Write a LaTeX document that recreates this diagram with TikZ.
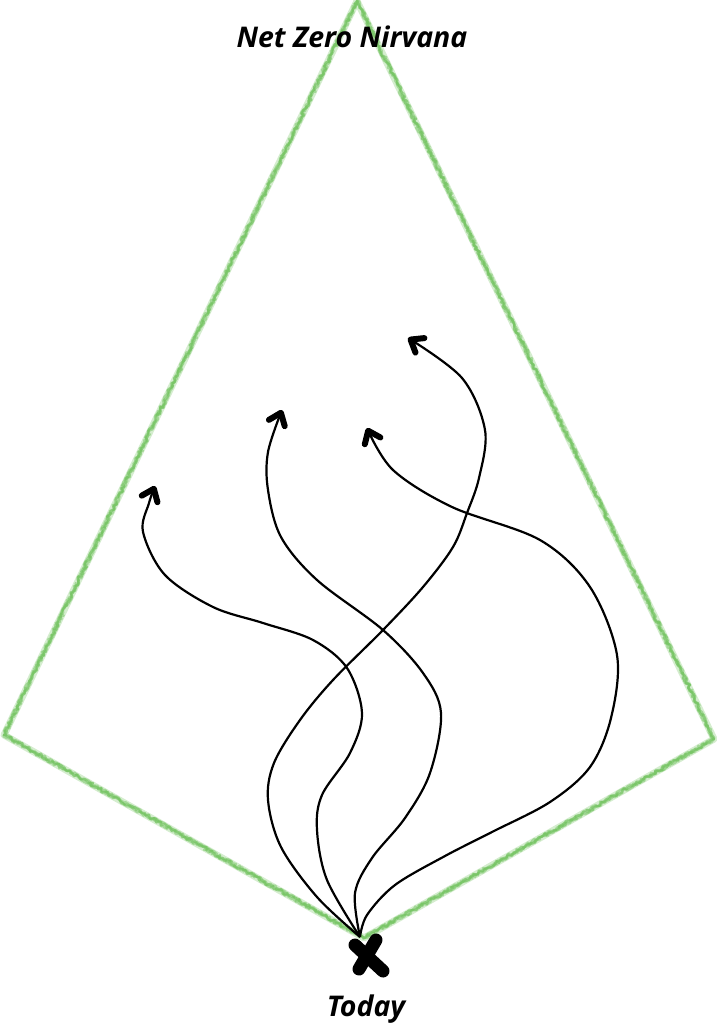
\documentclass[tikz,border=0pt]{standalone}
\usepackage{fontspec}
\setmainfont{Open Sans}
\usetikzlibrary{arrows.meta,decorations.pathmorphing}
\definecolor{crayon}{RGB}{104,190,84}
\tikzset{
  kite/.style={draw=crayon, line width=7pt, opacity=0.28, line join=round, line cap=round},
  kitefuzz/.style={draw=crayon, line width=2.4pt, opacity=0.45, line join=round, line cap=round,
    decorate, decoration={random steps, segment length=2pt, amplitude=2pt}},
  path/.style={draw=black, line width=2.2pt,
    -{Straight Barb[length=11pt,width=17pt,line width=6pt,round]}},
  label/.style={font=\fontsize{28.5}{32}\selectfont\bfseries\itshape, text=black, inner sep=0pt, anchor=base},
  xmark/.style={line width=13pt, line cap=round, draw=black}
}
\begin{document}
\begin{tikzpicture}[x=1pt,y=-1pt]
\useasboundingbox (0,0) rectangle (717,1023);
% kite vertices
\coordinate (top) at (357,1);
\coordinate (left) at (4,735);
\coordinate (bottom) at (364,938);
\coordinate (right) at (714,739);
\draw[kite] (top) -- (left) -- (bottom) -- (right) -- cycle;
\draw[kitefuzz] (top) -- (left) -- (bottom) -- (right) -- cycle;
\draw[kitefuzz] (top) -- (left) -- (bottom) -- (right) -- cycle;
\draw[kitefuzz] (top) -- (left) -- (bottom) -- (right) -- cycle;

% start and tips
\coordinate (o) at (360,937);
\coordinate (tipA) at (155,486);
\coordinate (tipB) at (282,410);
\coordinate (tipC) at (408,338);
\coordinate (tipD) at (367,428);

\draw[path] plot[smooth, tension=0.55] coordinates {(o) (327,880) (317,830) (322,795) (350,753) (362,713) (347,668) (313,640) (263,623) (213,607) (165,575) (143,532) (149,503) (tipA)};
\draw[path] plot[smooth, tension=0.55] coordinates {(o) (355,893) (372,858) (405,818) (430,773) (441,713) (423,673) (383,630) (317,580) (281,537) (268,490) (268,452) (tipB)};
\draw[path] plot[smooth, tension=0.55] coordinates {(o) (317,897) (281,847) (268,800) (274,763) (300,720) (333,680) (383,630) (423,587) (453,547) (467,513) (479,478) (485,430) (462,378) (tipC)};
\draw[path] plot[smooth, tension=0.55] coordinates {(o) (367,915) (395,885) (445,856) (492,832) (550,802) (590,767) (611,718) (617,655) (590,587) (540,540) (452,507) (393,470) (tipD)};

% the X mark
\coordinate (x1) at (355,945);
\coordinate (x2) at (383,971);
\coordinate (x3) at (376,940);
\coordinate (x4) at (359,969);
\draw[xmark] (x1) -- (x2);
\draw[xmark] (x3) -- (x4);

\node[label] (goal) at (352,47) {Net Zero Nirvana};
\node[label] (today) at (366,1016) {Today};
\end{tikzpicture}
\end{document}
